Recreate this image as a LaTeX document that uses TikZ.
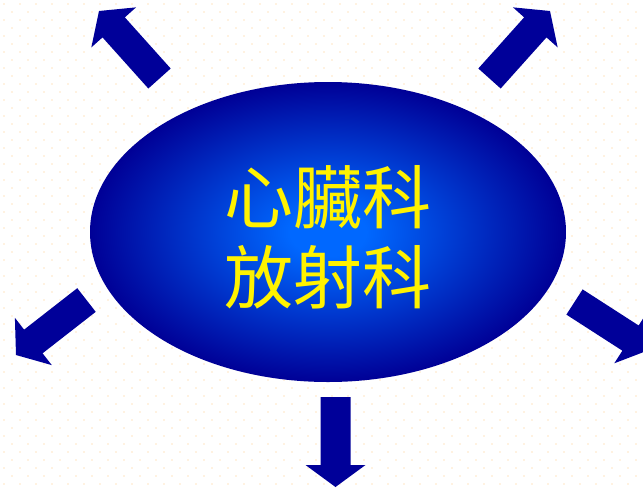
\documentclass[tikz,border=0pt]{standalone}
\usepackage{fontspec}
\newfontfamily\cjk{Noto Sans CJK TC}
\usetikzlibrary{calc}
\definecolor{arrowblue}{RGB}{0,0,153}
\definecolor{ellin}{RGB}{0,104,255}
\definecolor{ellout}{RGB}{0,0,150}
\definecolor{dotc}{RGB}{255,230,195}
\pgfdeclareradialshading{ellshade}{\pgfpoint{0bp}{0bp}}{%
  color(0bp)=(ellin); color(4bp)=(ellin); color(25bp)=(ellout); color(50bp)=(ellout)}
\newcommand{\blkarrow}[3]{% #1 name, #2 start, #3 tip
  \coordinate (#1s) at (#2);
  \coordinate (#1t) at (#3);
  \coordinate (#1h) at ($(#1t)!22pt!(#1s)$);
  \fill[arrowblue] ($(#1s)!15pt!90:(#1t)$) -- ($(#1h)!15pt!90:(#1t)$) -- ($(#1h)!30pt!90:(#1t)$)
    -- (#1t) -- ($(#1h)!30pt!-90:(#1t)$) -- ($(#1h)!15pt!-90:(#1t)$) -- ($(#1s)!15pt!-90:(#1t)$) -- cycle;
}
\begin{document}
\begin{tikzpicture}[x=1pt,y=-1pt]
\useasboundingbox (0,0) rectangle (643,488);
\fill[white] (0,0) rectangle (643,488);
\begin{scope}
\clip (0,0) rectangle (643,488);
\foreach \j in {0,...,61}{
  \foreach \i in {0,...,41}{
    \pgfmathsetmacro{\xx}{\i*16+mod(\j,2)*8+4}
    \fill[dotc] (\xx,\j*8+4) circle (0.8);
  }
}
\shade[shading=ellshade] (328,232) ellipse [x radius=238, y radius=150];
\node[font=\cjk\fontsize{69}{80}\selectfont, text=yellow, align=center] (t) at (328,237) {心臟科\\放射科};
\blkarrow{tl}{159.5,78.5}{99,11}
\blkarrow{tr}{489.5,78.5}{550,11}
\blkarrow{l}{86.5,300}{16,355}
\blkarrow{r}{574.5,302}{649,350}
\blkarrow{b}{335.5,397}{335.5,487}
\end{scope}
\end{tikzpicture}
\end{document}
